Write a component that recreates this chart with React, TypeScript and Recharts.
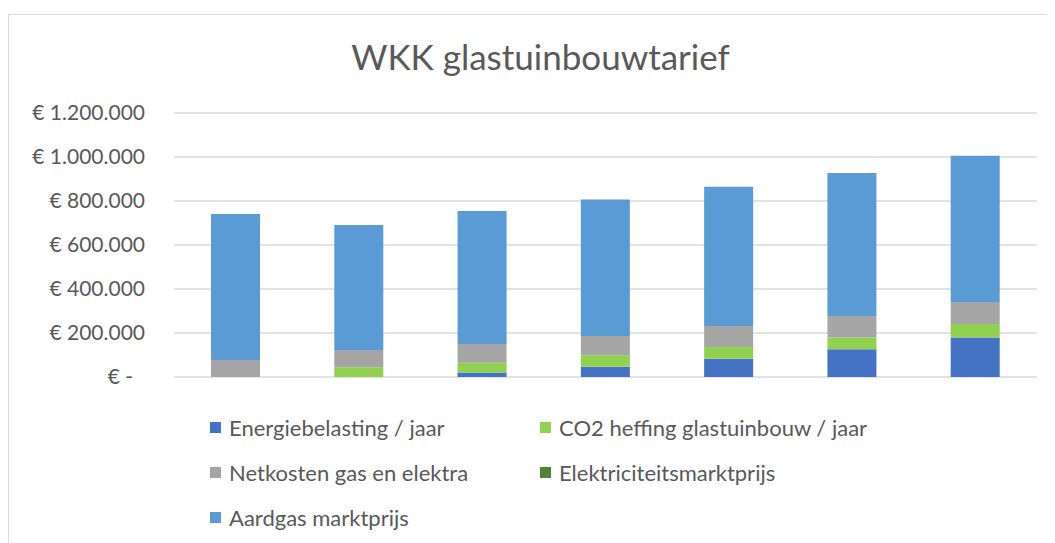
import React from 'react';
import { BarChart, Bar, XAxis, YAxis, CartesianGrid, Legend } from 'recharts';

const categories = ['1', '2', '3', '4', '5', '6', '7'];
const energiebelasting = [0, 0, 20000, 47000, 83000, 126000, 179000];
const co2Heffing = [0, 44000, 45000, 52000, 53000, 54000, 62000];
const netkosten = [77000, 79000, 85000, 87000, 96000, 97000, 100000];
const elektriciteit = [0, 0, 0, 0, 0, 0, 0];
const aardgas = [664000, 568000, 605000, 621000, 633000, 650000, 665000];
const yTicks = [0, 200000, 400000, 600000, 800000, 1000000, 1200000];

const series = [
  { key: 'energie', name: 'Energiebelasting / jaar', color: '#4472C4' },
  { key: 'co2', name: 'CO2 heffing glastuinbouw / jaar', color: '#92D050' },
  { key: 'netkosten', name: 'Netkosten gas en elektra', color: '#A5A5A5' },
  { key: 'elektriciteit', name: 'Elektriciteitsmarktprijs', color: '#548235' },
  { key: 'aardgas', name: 'Aardgas marktprijs', color: '#5B9BD5' },
];

const data = categories.map((c, i) => ({
  name: c,
  energie: energiebelasting[i],
  co2: co2Heffing[i],
  netkosten: netkosten[i],
  elektriciteit: elektriciteit[i],
  aardgas: aardgas[i],
}));

const FONT = 'Lato, sans-serif';
const TEXT = '#595959';

const formatEuro = (v: number) => (v === 0 ? '€ -' : '€ ' + v.toLocaleString('de-DE'));

const YTick = (props: any) => {
  const { x, y, payload } = props;
  const zero = payload.value === 0;
  return (
    <text x={zero ? x - 12 : x} y={y} dy={7} textAnchor="end" fill={TEXT} fontSize={21} fontFamily={FONT}>
      {formatEuro(payload.value)}
    </text>
  );
};

const LegendBox = () => (
  <div style={{ position: 'relative', width: 1046, height: 140, fontFamily: FONT, fontSize: 22, color: TEXT }}>
    {series.map((s, i) => (
      <div
        key={s.key}
        style={{
          position: 'absolute',
          left: i % 2 === 0 ? 201 : 531,
          top: Math.floor(i / 2) * 45,
          height: 26,
          display: 'flex',
          alignItems: 'center',
          whiteSpace: 'nowrap',
        }}
      >
        <span style={{ width: 11, height: 11, background: s.color, marginRight: 8, display: 'inline-block' }} />
        {s.name}
      </div>
    ))}
  </div>
);

export default function App() {
  return (
    <div
      style={{
        position: 'relative',
        marginTop: 6,
        width: 1047,
        height: 529,
        borderTop: '1.5px solid #d9d9d9',
        borderLeft: '1.5px solid #d9d9d9',
        overflow: 'hidden',
        boxSizing: 'border-box',
        background: '#fff',
      }}
    >
      <div
        style={{
          position: 'absolute',
          left: 0,
          top: 20,
          width: 1063,
          textAlign: 'center',
          fontFamily: FONT,
          fontSize: 35,
          color: TEXT,
        }}
      >
        WKK glastuinbouwtarief
      </div>
      <BarChart width={1046} height={528} data={data} margin={{ top: 98, right: 18, bottom: 166, left: 0 }} barSize={49}>
        <CartesianGrid vertical={false} stroke="#d9d9d9" strokeWidth={1.5} />
        <XAxis dataKey="name" hide />
        <YAxis
          width={165}
          domain={[0, 1200000]}
          ticks={yTicks}
          axisLine={false}
          tickLine={false}
          tickSize={0}
          tickMargin={29}
          tick={<YTick />}
          interval={0}
        />
        {series.map((s) => (
          <Bar key={s.key} dataKey={s.key} name={s.name} stackId="a" fill={s.color} isAnimationActive={false} />
        ))}
        <Legend
          layout="vertical"
          align="center"
          verticalAlign="middle"
          wrapperStyle={{ position: 'absolute', left: 0, top: 399, width: 1046 }}
          content={() => <LegendBox />}
        />
      </BarChart>
    </div>
  );
}
